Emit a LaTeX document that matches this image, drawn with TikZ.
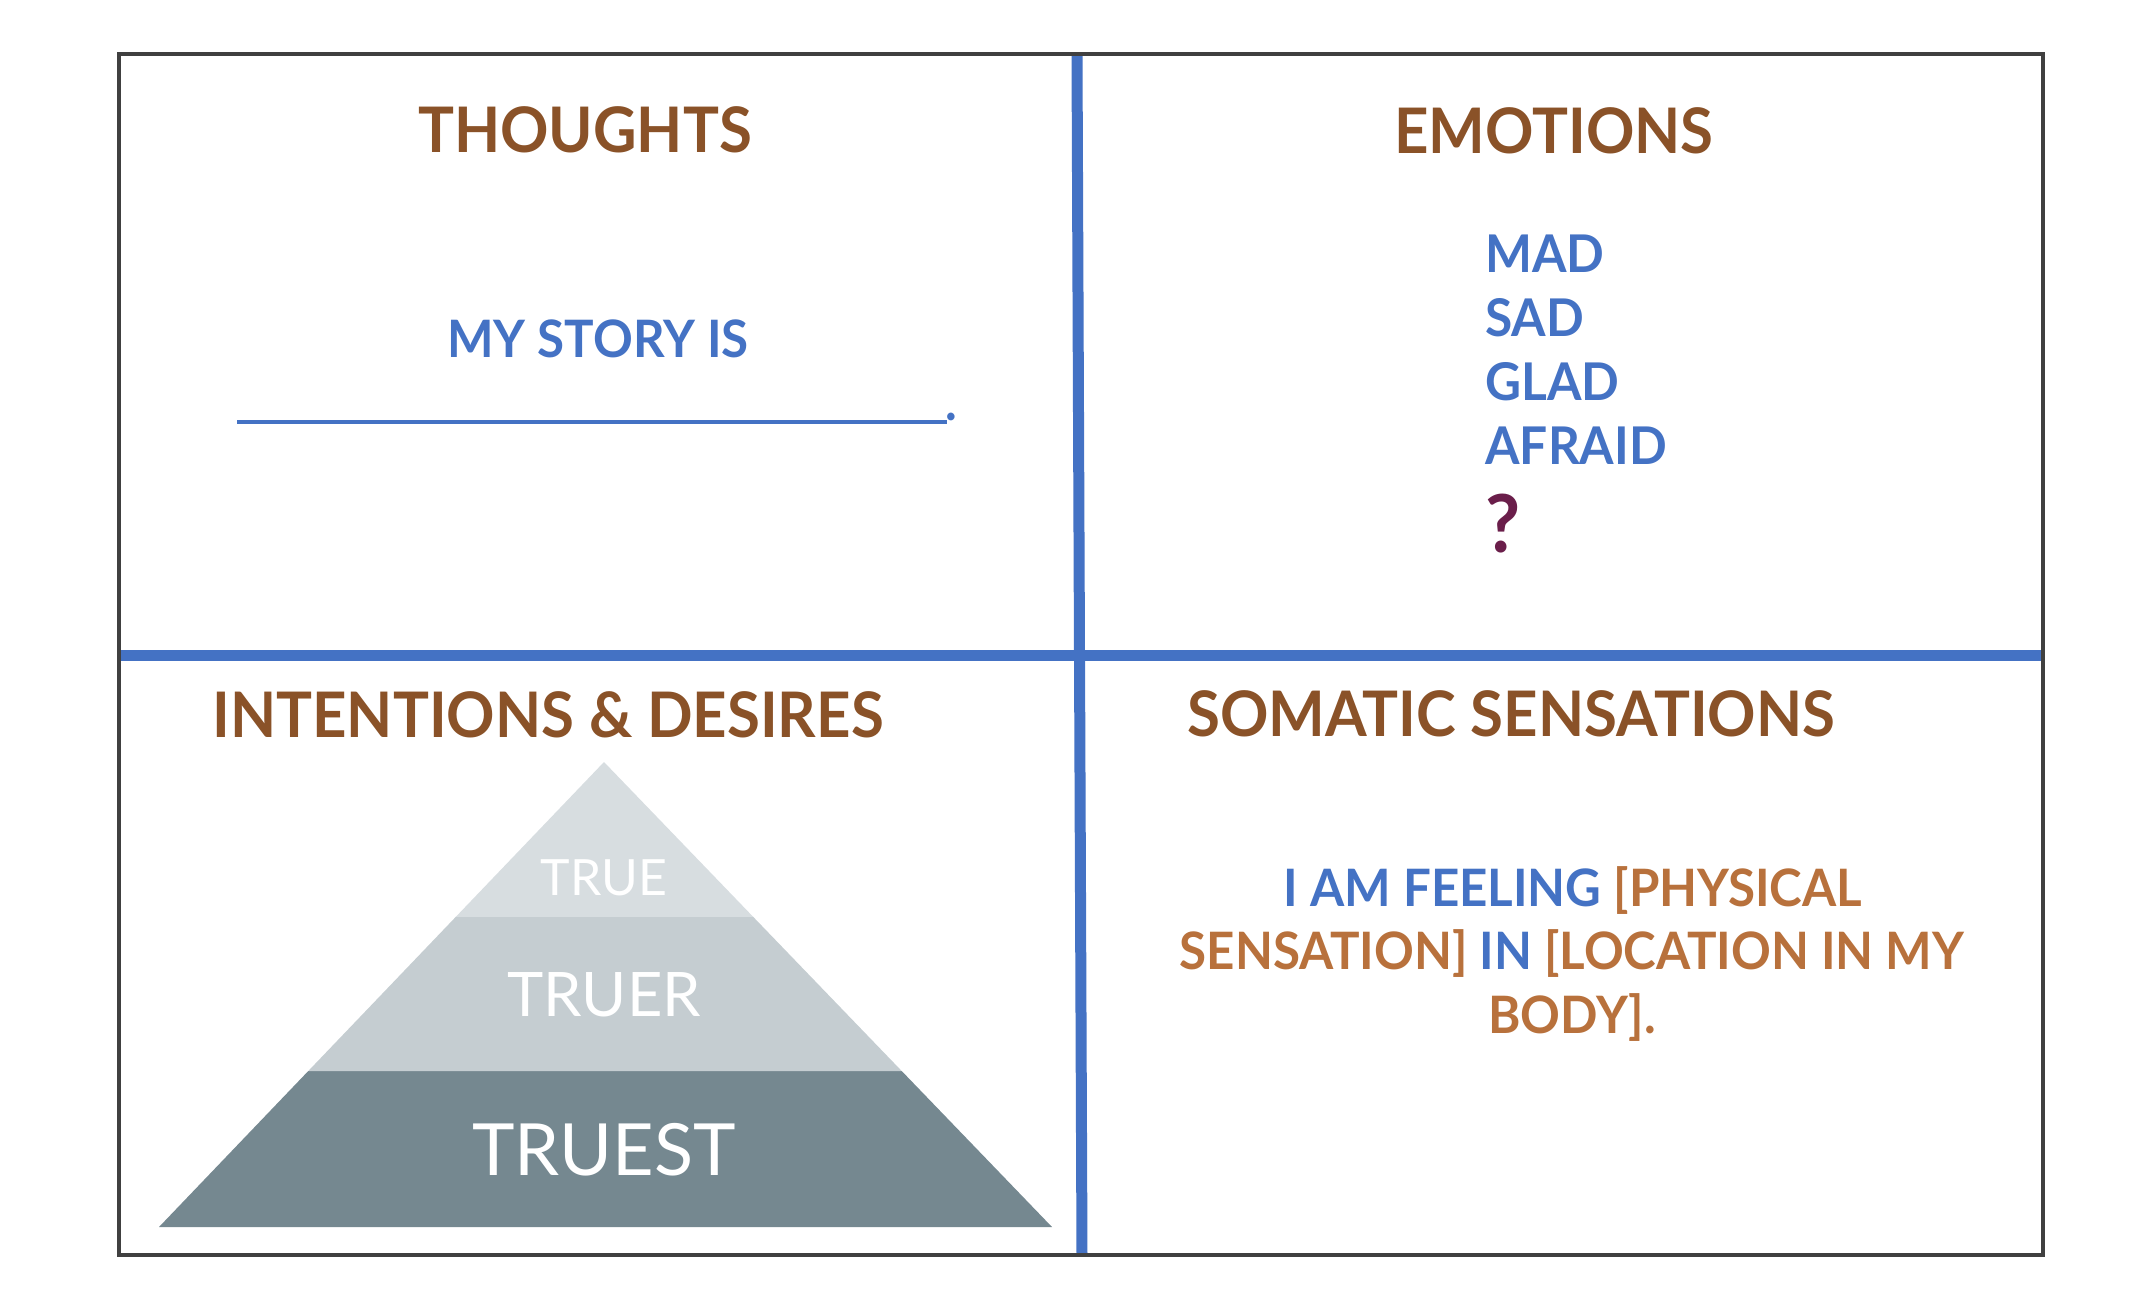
\documentclass[tikz,border=0pt]{standalone}
\usepackage{fontspec}
\setmainfont{Lato}[BoldFeatures={FakeStretch=0.955}]
\usetikzlibrary{calc}
\definecolor{hdbrown}{HTML}{8A5228}
\definecolor{ltbrown}{HTML}{B8713C}
\definecolor{msblue}{HTML}{4472C4}
\definecolor{qpurple}{HTML}{6A1E4A}
\definecolor{frame}{HTML}{404040}
\definecolor{pyrA}{HTML}{D7DDE0}
\definecolor{pyrB}{HTML}{C5CDD1}
\definecolor{pyrC}{HTML}{758890}
\tikzset{
  heading/.style={inner sep=0pt, anchor=base, text=hdbrown, font=\fontsize{31.4}{36}\selectfont\bfseries},
  emo/.style={inner sep=0pt, anchor=base west, text=msblue, font=\fontsize{26}{30}\selectfont\bfseries},
  soma/.style={inner sep=0pt, anchor=base, font=\fontsize{25.8}{30}\selectfont\bfseries},
  pyrtext/.style={inner sep=0pt, anchor=base, text=white},
  divider/.style={draw=msblue, line width=5.5pt},
}
\begin{document}
\begin{tikzpicture}[x=0.5pt,y=-0.5pt]
\useasboundingbox (0,0) rectangle (2149,1306);
% dividers
\coordinate (vtop) at (1077,54);
\coordinate (vbot) at (1082,1255);
\coordinate (hleft) at (119,655);
\coordinate (hright) at (2043,655);
\draw[divider] (hleft) -- (hright);
\draw[divider] (vtop) -- (vbot);
% frame
\draw[frame, line width=2.4pt] (119,54) rectangle (2043,1255);
% THOUGHTS
\node[heading] (thoughts) at (585,152) {THOUGHTS};
\node[inner sep=0pt, anchor=base, text=msblue, font=\fontsize{25.8}{30}\selectfont\bfseries] (story) at (598,357) {MY STORY IS};
\coordinate (ulA) at (237,422);
\coordinate (ulB) at (947,422);
\draw[msblue, line width=1.8pt] (ulA) -- (ulB);
\node[inner sep=0pt, anchor=base west, text=msblue, font=\fontsize{25.8}{30}\selectfont\bfseries] (dot) at (945,420) {.};
% EMOTIONS
\node[heading] (emotions) at (1554,153) {EMOTIONS};
\node[emo] (mad) at (1485,272) {MAD};
\node[emo] (sad) at (1485,336) {SAD};
\node[emo] (glad) at (1485,400) {GLAD};
\node[emo] (afraid) at (1485,464) {AFRAID};
\node[inner sep=0pt, anchor=base west, text=qpurple, font=\fontsize{40}{44}\selectfont\bfseries] (q) at (1485,552) {?};
% INTENTIONS
\node[heading, anchor=base west] (intent) at (212,737) {INTENTIONS \& DESIRES};
\coordinate (apex) at (604,762);
\coordinate (bl) at (159,1227);
\coordinate (br) at (1052,1227);
\fill[pyrC] (bl) -- (br) -- ($(apex)!0.6645!(br)$) -- ($(apex)!0.6645!(bl)$) -- cycle;
\fill[pyrB] ($(apex)!0.6645!(bl)$) -- ($(apex)!0.6645!(br)$) -- ($(apex)!0.3333!(br)$) -- ($(apex)!0.3333!(bl)$) -- cycle;
\fill[pyrA] ($(apex)!0.3333!(bl)$) -- ($(apex)!0.3333!(br)$) -- (apex) -- cycle;
\node[pyrtext, font=\fontsize{25}{30}\selectfont] (true) at (604,895) {TRUE};
\node[pyrtext, font=\fontsize{30.7}{36}\selectfont] (truer) at (604,1016) {TRUER};
\node[pyrtext, font=\fontsize{36}{42}\selectfont] (truest) at (604,1175) {TRUEST};
% SOMATIC
\node[heading, anchor=base west] (somatic) at (1187,736) {SOMATIC SENSATIONS};
\node[soma] (s1) at (1573,906) {\textcolor{msblue}{I AM FEELING} \textcolor{ltbrown}{[PHYSICAL}};
\node[soma] (s2) at (1572,969) {\textcolor{ltbrown}{SENSATION]} \textcolor{msblue}{IN} \textcolor{ltbrown}{[LOCATION IN MY}};
\node[soma] (s3) at (1572,1033) {\textcolor{ltbrown}{BODY].}};
\end{tikzpicture}
\end{document}
